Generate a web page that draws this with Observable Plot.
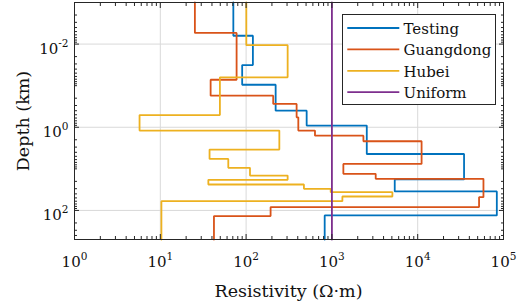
<!DOCTYPE html>
<html><head><meta charset="utf-8">
<script src="https://cdn.jsdelivr.net/npm/d3@7"></script>
<script src="https://cdn.jsdelivr.net/npm/@observablehq/plot@0.6"></script>
<style>
body{margin:0;background:#fff;}
#wrap{position:relative;width:523px;height:303px;}
#wrap svg, #wrap svg text{font-family:"DejaVu Serif","Liberation Serif",serif !important;}
</style></head><body><div id="wrap"></div>
<script>
// ---- data ----
const seriesNames = ["Testing", "Guangdong", "Hubei", "Uniform"];
const seriesColors = ["#0072BD", "#D95319", "#EDB120", "#7E2F8E"];

// resistivity (Ω·m) of each layer, top to bottom
const testingRho = [71, 120, 90, 221, 508, 2550, 34700, 5400, 83600, 824];
// depth (km) of the layer bottoms
const testingDepth = [0.0063, 0.032, 0.095, 0.40, 0.91, 4.4, 18, 35, 132];

const guangdongRho = [25.3, 77.5, 38.6, 207, 388, 406, 635, 2330, 11100, 1360, 3240, 58400, 51900, 193, 42.2];
const guangdongDepth = [0.0054, 0.072, 0.174, 0.275, 0.578, 1.2, 1.59, 2.17, 7.6, 13.2, 17.4, 48, 83, 137];

const hubeiRho = [100.6, 305, 49.5, 5.73, 244, 37.5, 62, 111, 305, 36.3, 472, 968, 5070, 1325, 10.3];
const hubeiDepth = [0.0106, 0.063, 0.51, 1.2, 3.44, 5.76, 9.46, 14.5, 18.4, 23.8, 30.2, 36.4, 46.2, 59.9];

const uniformRho = [1000];
const uniformDepth = [];

const xDomain = [1, 1e5];
const yDomain = [0.001, 500];
const xMajor = [1, 10, 100, 1000, 10000, 100000];
const yMajor = [0.01, 1, 100];
const xLabel = "Resistivity (Ω·m)";
const yLabel = "Depth (km)";

// ---- build staircase rows ----
const models = [testingRho, guangdongRho, hubeiRho, uniformRho];
const bounds = [testingDepth, guangdongDepth, hubeiDepth, uniformDepth];
const rows = [];
models.forEach((rho, s) => {
  const edges = [yDomain[0], ...bounds[s], yDomain[1]];
  rho.forEach((r, i) => {
    rows.push({name: seriesNames[s], rho: r, depth: edges[i]});
    rows.push({name: seriesNames[s], rho: r, depth: edges[i + 1]});
  });
});

// minor ticks (decoration)
const xMinor = [];
for (let k = 0; k < 5; k++) for (let m = 2; m <= 9; m++) xMinor.push(m * 10 ** k);
const yMinor = [];
for (let k = -3; k <= 2; k++) for (let m = 1; m <= 9; m++) {
  const v = m * 10 ** k;
  if (v <= yDomain[1] + 1e-9 && !yMajor.some(t => Math.abs(t - v) < 1e-12)) yMinor.push(v);
}
const xGrid = xMajor.slice(1, -1);

const fmt = d => "10^" + Math.round(Math.log10(d));
const tc = "#262626";
const serif = '"DejaVu Serif", "Liberation Serif", serif';

const plot = Plot.plot({
  width: 523, height: 303,
  marginLeft: 74, marginRight: 20, marginTop: 2, marginBottom: 64,
  style: {fontFamily: serif, fontSize: "15px", color: tc, background: "white"},
  x: {type: "log", domain: xDomain},
  y: {type: "log", domain: yDomain, reverse: true},
  color: {domain: seriesNames, range: seriesColors},
  marks: [
    Plot.gridX(xGrid, {stroke: "#d9d9d9", strokeOpacity: 1}),
    Plot.gridY(yMajor, {stroke: "#d9d9d9", strokeOpacity: 1}),
    Plot.line(rows, {x: "rho", y: "depth", z: "name", stroke: "name", strokeWidth: 1.8, strokeLinejoin: "miter", curve: "linear"}),
    Plot.frame({stroke: tc, strokeWidth: 1}),
    // inward ticks
    Plot.axisX(xMajor, {anchor: "bottom", tickSize: -5, fill: "none", label: null, stroke: tc}),
    Plot.axisX(xMajor, {anchor: "top", tickSize: -5, fill: "none", label: null, stroke: tc}),
    Plot.axisX(xMinor, {anchor: "bottom", tickSize: -3, fill: "none", label: null, stroke: tc}),
    Plot.axisX(xMinor, {anchor: "top", tickSize: -3, fill: "none", label: null, stroke: tc}),
    Plot.axisY(yMajor, {anchor: "left", tickSize: -5, fill: "none", label: null, stroke: tc}),
    Plot.axisY(yMajor, {anchor: "right", tickSize: -5, fill: "none", label: null, stroke: tc}),
    Plot.axisY(yMinor, {anchor: "left", tickSize: -3, fill: "none", label: null, stroke: tc}),
    Plot.axisY(yMinor, {anchor: "right", tickSize: -3, fill: "none", label: null, stroke: tc}),
    // labels
    Plot.axisX(xMajor, {anchor: "bottom", tickSize: 0, tickPadding: 17, tickFormat: fmt, label: null, fill: "#111"}),
    Plot.axisY(yMajor, {anchor: "left", tickSize: 0, tickPadding: 6, dy: 5, tickFormat: fmt, label: null, fill: "#111"})
  ]
});

document.getElementById("wrap").appendChild(plot);
const svg = d3.select(plot);
svg.style("font-family", serif);

// superscripts in tick labels
svg.selectAll('[aria-label="x-axis tick label"] text, [aria-label="y-axis tick label"] text').each(function () {
  const t = this.textContent;
  if (!t.includes("^")) return;
  const [b, e] = t.split("^");
  const el = d3.select(this);
  el.text(null);
  el.append("tspan").text(b).attr("font-size", "15px");
  el.append("tspan").attr("dy", "-7").attr("font-size", "10.5px").text(e);
});

// axis titles
svg.append("text").attr("x", 288.5).attr("y", 297).attr("text-anchor", "middle")
  .attr("font-size", "17.5px").attr("fill", "#111").text(xLabel);
svg.append("text").attr("transform", "translate(29,121) rotate(-90)").attr("text-anchor", "middle")
  .attr("font-size", "17.5px").attr("fill", "#111").text(yLabel);

// legend box
const lg = svg.append("g").attr("transform", "translate(342.5,14.5)");
lg.append("rect").attr("width", 153).attr("height", 90).attr("fill", "white").attr("stroke", tc).attr("stroke-width", 1);
seriesNames.forEach((n, i) => {
  const y = 13.5 + i * 21.4;
  lg.append("line").attr("x1", 4.8).attr("x2", 56.8).attr("y1", y).attr("y2", y)
    .attr("stroke", seriesColors[i]).attr("stroke-width", 1.8);
  lg.append("text").attr("x", 61).attr("y", y + 6).attr("text-anchor", "start")
    .attr("font-size", "15px").attr("fill", "#111").text(n);
});
svg.selectAll("text").style("font-family", serif);
</script></body></html>
